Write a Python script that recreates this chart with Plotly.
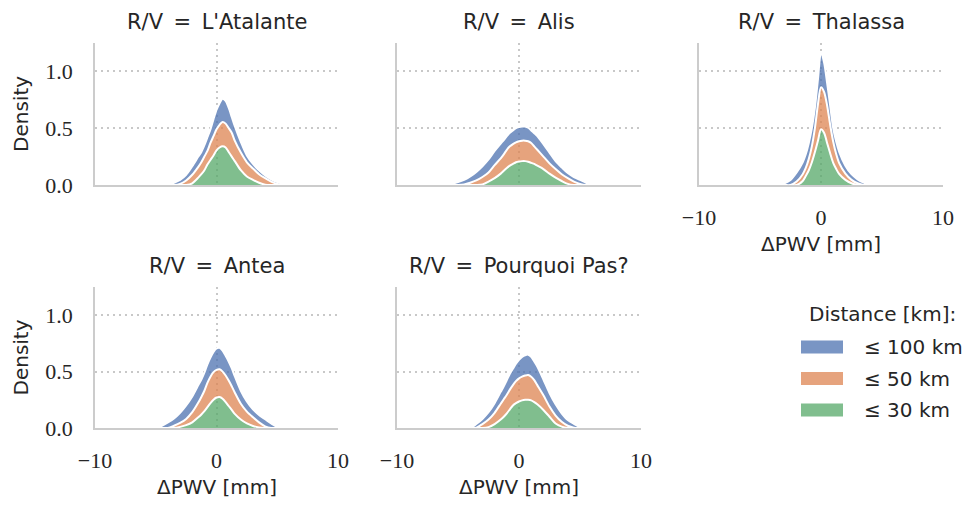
import plotly.graph_objects as go

# Stacked KDE of PWV differences per research vessel, split by distance class
vessels = ["L'Atalante", "Alis", "Thalassa", "Antea", "Pourquoi Pas?"]
distances = ["≤ 100 km", "≤ 50 km", "≤ 30 km"]
colors = ["rgba(76,114,176,0.75)", "rgba(221,132,82,0.75)", "rgba(85,168,104,0.75)"]

# ΔPWV grid [mm] on which the stacked outlines were read
dpwv = [-6.5, -6, -5.5, -5, -4.5, -4, -3.5, -3, -2.5, -2, -1.5, -1.25, -1, -0.75, -0.5, -0.25,
        0, 0.25, 0.5, 0.75, 1, 1.25, 1.5, 2, 2.5, 3, 3.5, 4, 4.5, 5, 5.5, 6, 6.5]

# top edge of each stacked layer (density)
atalante_100 = [0, 0, 0, 0, 0, 0.003, 0.02, 0.045, 0.09, 0.165, 0.25, 0.29, 0.35, 0.42, 0.49, 0.58,
                0.66, 0.72, 0.76, 0.74, 0.68, 0.60, 0.52, 0.38, 0.26, 0.185, 0.13, 0.085, 0.05, 0.025, 0.008, 0, 0]
atalante_50 = [0, 0, 0, 0, 0, 0, 0, 0.01, 0.04, 0.09, 0.16, 0.2, 0.25, 0.3, 0.37, 0.43,
               0.49, 0.53, 0.555, 0.54, 0.5, 0.46, 0.39, 0.285, 0.2, 0.145, 0.095, 0.06, 0.03, 0.008, 0, 0, 0]
atalante_30 = [0, 0, 0, 0, 0, 0, 0, 0, 0, 0.015, 0.065, 0.095, 0.13, 0.18, 0.22, 0.26,
               0.305, 0.33, 0.34, 0.33, 0.29, 0.25, 0.21, 0.13, 0.075, 0.045, 0.02, 0.003, 0, 0, 0, 0, 0]

alis_100 = [0, 0.002, 0.01, 0.025, 0.045, 0.075, 0.115, 0.165, 0.225, 0.30, 0.365, 0.395, 0.43, 0.46, 0.48, 0.5,
            0.51, 0.515, 0.515, 0.505, 0.48, 0.455, 0.43, 0.36, 0.285, 0.21, 0.155, 0.105, 0.07, 0.045, 0.02, 0.003, 0]
alis_50 = [0, 0, 0, 0, 0.005, 0.02, 0.04, 0.07, 0.11, 0.175, 0.235, 0.27, 0.31, 0.34, 0.36, 0.375,
           0.385, 0.39, 0.39, 0.385, 0.37, 0.34, 0.31, 0.25, 0.19, 0.14, 0.095, 0.06, 0.03, 0.01, 0, 0, 0]
alis_30 = [0, 0, 0, 0, 0, 0, 0, 0.005, 0.03, 0.06, 0.1, 0.125, 0.15, 0.17, 0.185, 0.2,
           0.207, 0.21, 0.21, 0.205, 0.195, 0.185, 0.17, 0.14, 0.1, 0.065, 0.035, 0.01, 0, 0, 0, 0, 0]

thalassa_100 = [0, 0, 0, 0, 0, 0, 0, 0.015, 0.045, 0.11, 0.2, 0.27, 0.37, 0.5, 0.68, 0.93,
                1.17, 1.08, 0.9, 0.7, 0.5, 0.38, 0.29, 0.17, 0.095, 0.05, 0.02, 0, 0, 0, 0, 0, 0]
thalassa_50 = [0, 0, 0, 0, 0, 0, 0, 0, 0, 0.03, 0.095, 0.15, 0.23, 0.34, 0.5, 0.71,
               0.86, 0.82, 0.7, 0.53, 0.38, 0.27, 0.19, 0.1, 0.045, 0.015, 0, 0, 0, 0, 0, 0, 0]
thalassa_30 = [0, 0, 0, 0, 0, 0, 0, 0, 0, 0, 0.035, 0.08, 0.13, 0.2, 0.29, 0.39,
               0.49, 0.46, 0.37, 0.28, 0.195, 0.14, 0.095, 0.045, 0.015, 0, 0, 0, 0, 0, 0, 0, 0]

antea_100 = [0, 0, 0, 0, 0.02, 0.05, 0.085, 0.135, 0.2, 0.28, 0.38, 0.43, 0.49, 0.565, 0.625, 0.675,
             0.705, 0.71, 0.685, 0.64, 0.59, 0.53, 0.46, 0.33, 0.235, 0.165, 0.115, 0.078, 0.04, 0.01, 0, 0, 0]
antea_50 = [0, 0, 0, 0, 0, 0, 0.02, 0.045, 0.08, 0.14, 0.225, 0.275, 0.33, 0.4, 0.455, 0.495,
            0.515, 0.52, 0.5, 0.465, 0.42, 0.37, 0.315, 0.215, 0.145, 0.095, 0.05, 0.015, 0, 0, 0, 0, 0]
antea_30 = [0, 0, 0, 0, 0, 0, 0, 0.01, 0.025, 0.05, 0.095, 0.12, 0.15, 0.185, 0.22, 0.25,
            0.27, 0.275, 0.26, 0.23, 0.195, 0.16, 0.125, 0.075, 0.04, 0.018, 0.005, 0, 0, 0, 0, 0, 0]

pourquoi_100 = [0, 0, 0, 0, 0, 0, 0.035, 0.08, 0.14, 0.22, 0.32, 0.37, 0.425, 0.48, 0.525, 0.57,
                0.605, 0.63, 0.645, 0.65, 0.63, 0.59, 0.545, 0.43, 0.31, 0.21, 0.13, 0.07, 0.037, 0.01, 0, 0, 0]
pourquoi_50 = [0, 0, 0, 0, 0, 0, 0.003, 0.035, 0.075, 0.135, 0.215, 0.255, 0.295, 0.34, 0.38, 0.415,
               0.44, 0.455, 0.465, 0.47, 0.455, 0.425, 0.38, 0.29, 0.19, 0.11, 0.055, 0.02, 0.003, 0, 0, 0, 0]
pourquoi_30 = [0, 0, 0, 0, 0, 0, 0, 0, 0.008, 0.035, 0.075, 0.1, 0.13, 0.165, 0.2, 0.22,
               0.235, 0.245, 0.25, 0.25, 0.245, 0.23, 0.21, 0.16, 0.1, 0.04, 0.012, 0, 0, 0, 0, 0, 0]

stacks = [
    [atalante_100, atalante_50, atalante_30],
    [alis_100, alis_50, alis_30],
    [thalassa_100, thalassa_50, thalassa_30],
    [antea_100, antea_50, antea_30],
    [pourquoi_100, pourquoi_50, pourquoi_30],
]

sans = "DejaVu Sans"
serif = "Liberation Serif"
ink = "#262626"

# facet placement (col_wrap=3)
col_dom = [(0.0987, 0.351), (0.4123, 0.6656), (0.7259, 0.9792)]
row_dom = [(0.6337, 0.9149), (0.1525, 0.4317)]
cells = [(0, 0), (0, 1), (0, 2), (1, 0), (1, 1)]

fig = go.Figure()
annotations = []

for i, vessel in enumerate(vessels):
    r, c = cells[i]
    xref = "x" if i == 0 else f"x{i+1}"
    yref = "y" if i == 0 else f"y{i+1}"
    # bottom layer first, then stack upward
    for j in [2, 1, 0]:
        fig.add_trace(go.Scatter(
            x=dpwv, y=stacks[i][j], xaxis=xref, yaxis=yref,
            mode="lines", line=dict(color="white", width=2, shape="spline", smoothing=0.8),
            fill="tozeroy" if j == 2 else "tonexty", fillcolor=colors[j],
            showlegend=False, hoverinfo="skip"))

    show_x = (i >= 2)
    show_y = (c == 0)
    axis_common = dict(showgrid=True, griddash="2px,4px", gridcolor="#c8c8c8", gridwidth=1.6,
                       showline=True, linecolor="#cccccc", linewidth=2, zeroline=False,
                       automargin=False, ticks="",
                       tickfont=dict(family=serif, size=22, color=ink))
    xname = "xaxis" if i == 0 else f"xaxis{i+1}"
    yname = "yaxis" if i == 0 else f"yaxis{i+1}"
    fig.update_layout(**{
        xname: dict(axis_common, domain=col_dom[c], anchor=yref, range=[-10, 10],
                    tickvals=[-10, 0, 10], showticklabels=show_x, ticklabelstandoff=12),
        yname: dict(axis_common, domain=row_dom[r], anchor=xref, range=[0, 1.25],
                    tickvals=[0, 0.5, 1.0], tickformat=".1f", showticklabels=show_y,
                    ticklabelstandoff=16),
    })

    xmid = sum(col_dom[c]) / 2
    annotations.append(dict(text=f"R/V\u2002=\u2002{vessel}", x=xmid, y=row_dom[r][1] + 21 / 505,
                            xref="paper", yref="paper", showarrow=False,
                            xanchor="center", yanchor="middle",
                            font=dict(family=sans, size=21, color=ink)))
    if show_x:
        annotations.append(dict(text="ΔPWV [mm]", x=xmid, y=row_dom[r][0] - 59 / 505,
                                xref="paper", yref="paper", showarrow=False,
                                xanchor="center", yanchor="middle",
                                font=dict(family=sans, size=20, color=ink)))
    if show_y:
        annotations.append(dict(text="Density", x=21 / 963, y=sum(row_dom[r]) / 2,
                                xref="paper", yref="paper", showarrow=False, textangle=-90,
                                xanchor="center", yanchor="middle",
                                font=dict(family=sans, size=20, color=ink)))

# legend drawn by hand to get the wide seaborn patches
shapes = []
annotations.append(dict(text="Distance [km]:", x=882 / 963, y=1 - 314 / 505, xref="paper", yref="paper",
                        showarrow=False, xanchor="center", yanchor="middle",
                        font=dict(family=sans, size=20, color=ink)))
for k, label in enumerate(distances):
    yc = 347 + 31.5 * k
    shapes.append(dict(type="rect", xref="paper", yref="paper",
                       x0=801 / 963, x1=843 / 963, y0=1 - (yc - 6.5) / 505, y1=1 - (yc + 6.5) / 505,
                       fillcolor=colors[k], line=dict(width=0)))
    annotations.append(dict(text=label, x=862 / 963, y=1 - yc / 505, xref="paper", yref="paper",
                            showarrow=False, xanchor="left", yanchor="middle",
                            font=dict(family=sans, size=20, color=ink)))

fig.update_layout(width=963, height=505, margin=dict(l=0, r=0, t=0, b=0),
                  paper_bgcolor="white", plot_bgcolor="white",
                  annotations=annotations, shapes=shapes, showlegend=False)

# drop the browser's default body margin so the figure sits at the page origin
fig.write_html("out.html", config={"displayModeBar": False},
               post_script="document.body.style.margin = '0';")
